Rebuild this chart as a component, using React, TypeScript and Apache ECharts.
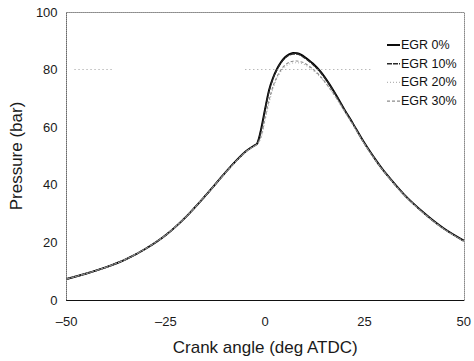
import React, { useEffect, useRef } from "react";
import * as echarts from "echarts";

const angles = [-50, -45, -40, -35, -30, -25, -20, -15, -10, -7, -5, -3, -2, -1, 0, 1, 2, 3, 4, 5, 6, 7, 8, 9, 10, 12, 14, 16, 18, 20, 22, 25, 28, 30, 35, 40, 45, 50];

const egr0 = [7.3, 9.2, 11.4, 14.2, 17.9, 22.6, 28.8, 36.3, 44.3, 48.8, 51.5, 53.4, 54.4, 59.5, 66.5, 73, 77.2, 80.3, 82.6, 84.3, 85.3, 85.8, 85.7, 85.2, 84.3, 82.1, 79.2, 75.3, 70.8, 66, 61.5, 54.5, 48.3, 44.6, 36.6, 30.2, 24.8, 20.6];
const egr10 = [7.3, 9.2, 11.4, 14.2, 17.9, 22.6, 28.8, 36.3, 44.3, 48.8, 51.5, 53.4, 54.3, 59, 66, 72.6, 77, 80.1, 82.4, 84, 85, 85.4, 85.4, 84.9, 84, 81.8, 78.9, 75.1, 70.7, 65.9, 61.4, 54.4, 48.2, 44.5, 36.5, 30.1, 24.7, 20.5];
const egr20 = [7.3, 9.2, 11.4, 14.2, 17.9, 22.6, 28.8, 36.3, 44.2, 48.6, 51.3, 53.2, 54, 56.5, 62.5, 68.5, 73.5, 77, 79.4, 81, 81.9, 82.3, 82.4, 82.2, 81.7, 79.8, 77.2, 73.8, 69.8, 65.4, 61, 54.1, 48, 44.4, 36.4, 30, 24.6, 20.4];
const egr30 = [7.3, 9.2, 11.4, 14.2, 17.9, 22.6, 28.8, 36.3, 44.2, 48.6, 51.3, 53.2, 54.1, 57, 63.5, 69.5, 74.3, 77.6, 80, 81.6, 82.5, 82.9, 83, 82.7, 82.2, 80.2, 77.5, 74, 70, 65.6, 61.1, 54.2, 48.1, 44.4, 36.4, 30, 24.6, 20.4];

const seriesNames = ["EGR 0%", "EGR 10%", "EGR 20%", "EGR 30%"];
const xTicks = [-50, -25, 0, 25, 50];
const refLevel = 80;

const FONT = "Liberation Sans";

export default function App() {
  const ref = useRef<HTMLDivElement>(null);
  useEffect(() => {
    if (!ref.current) return;
    const chart = echarts.init(ref.current, undefined, { renderer: "svg" });
    const pair = (ys: number[]) => angles.map((a, i) => [a, ys[i]]);
    const styles: any[] = [
      { color: "#000000", width: 1.9, type: "solid" },
      { color: "#2a2a2a", width: 1.4, type: [5, 1] },
      { color: "#b5b5b5", width: 1.1, type: [1, 2] },
      { color: "#8c8c8c", width: 1.1, type: [3, 2] },
    ];
    const data = [egr0, egr10, egr20, egr30];
    const legendX = 387;
    const legendY0 = 45;
    const legendStep = 18.7;
    const legendGraphics: any[] = [];
    seriesNames.forEach((name, i) => {
      const y = legendY0 + i * legendStep;
      legendGraphics.push({
        type: "line",
        shape: { x1: legendX, y1: y, x2: legendX + 13, y2: y },
        style: { stroke: styles[i].color, lineWidth: styles[i].width, lineDash: i === 0 ? null : styles[i].type },
        silent: true,
      });
      legendGraphics.push({
        type: "text",
        x: legendX + 14,
        y,
        style: { text: name, fontFamily: FONT, fontSize: 12.5, fill: "#111", textVerticalAlign: "middle", verticalAlign: "middle" },
        silent: true,
      });
    });
    chart.setOption({
      animation: false,
      backgroundColor: "#ffffff",
      textStyle: { fontFamily: FONT },
      grid: { left: 62, right: 8, top: 12, bottom: 61 },
      graphic: legendGraphics,
      xAxis: [
        {
          type: "value",
          min: -50,
          max: 50,
          interval: 25,
          name: "Crank angle (deg ATDC)",
          nameLocation: "middle",
          nameGap: 39,
          nameTextStyle: { fontFamily: FONT, fontSize: 17, color: "#1a1a1a" },
          axisLine: { show: true, lineStyle: { color: "#111", width: 1.2 } },
          axisTick: { show: false },
          splitLine: { show: false },
          axisLabel: {
            margin: 15,
            fontFamily: FONT,
            fontSize: 13,
            color: "#1a1a1a",
            formatter: (v: number) => (xTicks.includes(v) ? String(v).replace("-", "\u2013") : ""),
          },
        },
        {
          type: "value",
          position: "top",
          min: -50,
          max: 50,
          axisLine: { show: true, onZero: false, lineStyle: { color: "#888", width: 1, type: [1, 1] } },
          axisTick: { show: false },
          axisLabel: { show: false },
          splitLine: { show: false },
        },
      ],
      yAxis: [
        {
          type: "value",
          min: 0,
          max: 100,
          interval: 20,
          name: "Pressure (bar)",
          nameLocation: "middle",
          nameGap: 36,
          nameTextStyle: { fontFamily: FONT, fontSize: 17, color: "#1a1a1a" },
          axisLine: { show: true, onZero: false, lineStyle: { color: "#666", width: 1, type: [1, 1] } },
          axisTick: { show: false },
          splitLine: { show: false },
          axisLabel: { margin: 9, fontFamily: FONT, fontSize: 13, color: "#1a1a1a" },
        },
        {
          type: "value",
          position: "right",
          min: 0,
          max: 100,
          axisLine: { show: true, onZero: false, lineStyle: { color: "#888", width: 1, type: [1, 1] } },
          axisTick: { show: false },
          axisLabel: { show: false },
          splitLine: { show: false },
        },
      ],
      series: [
        {
          name: "ref",
          type: "line",
          data: [],
          silent: true,
          markLine: {
            silent: true,
            symbol: "none",
            label: { show: false },
            lineStyle: { color: "#9a9a9a", width: 1, type: [1, 3] },
            data: [
              [{ coord: [-48, refLevel] }, { coord: [-38, refLevel] }],
              [{ coord: [-5, refLevel] }, { coord: [27, refLevel] }],
            ],
          },
        },
        ...seriesNames.map((name, i) => ({
          name,
          type: "line",
          data: pair(data[i]),
          smooth: 0.3,
          symbol: "none",
          lineStyle: styles[i],
          itemStyle: { color: styles[i].color },
          z: 2 + i,
        })),
      ],
    });
    return () => chart.dispose();
  }, []);
  return <div ref={ref} style={{ position: "fixed", left: 0, top: 0, width: 474, height: 361 }} />;
}
